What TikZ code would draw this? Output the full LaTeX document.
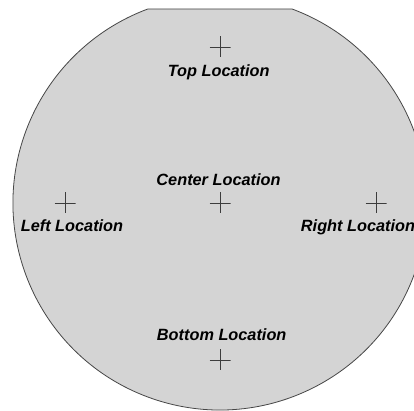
\documentclass[tikz,border=0pt]{standalone}
\usepackage{fontspec}
\setmainfont{Liberation Sans}
\usepackage{tikz}
\usetikzlibrary{positioning}
\definecolor{wafergray}{RGB}{212, 212, 212}
\definecolor{edgegray}{RGB}{70, 70, 70}
\definecolor{crossgray}{RGB}{60, 60, 60}

\begin{document}
\begin{tikzpicture}[
  x=1pt, y=1pt,
  crosshair/.style={rectangle, minimum size=21pt, inner sep=0pt,
              path picture={
                \draw[crossgray, line width=0.9pt]
                  (path picture bounding box.west) -- (path picture bounding box.east)
                  (path picture bounding box.north) -- (path picture bounding box.south);
              }},
  loclabel/.style={font=\fontsize{16.3}{18}\selectfont\bfseries\itshape, inner sep=0pt},
]
  \useasboundingbox (0,0) rectangle (414,411);
  \clip (0,0) rectangle (414,411);

  % --- wafer with flat ---
  \filldraw[fill=wafergray, draw=edgegray, line width=0.8pt]
    (292.1,402) arc[start angle=69.6, end angle=-249.6, radius=207] -- cycle;

  % measurement sites
  \node[crosshair] (top)    at (220,364) {};
  \node[crosshair] (center) at (220,208) {};
  \node[crosshair] (left)   at (65,208)  {};
  \node[crosshair] (right)  at (376,208) {};
  \node[crosshair] (bottom) at (220,51)  {};

  % site labels
  \node[loclabel, below=6.5pt of top, xshift=-1.3pt]   (toplbl)    {Top Location};
  \node[loclabel, above=6.5pt of center, xshift=-1.5pt] (centerlbl) {Center Location};
  \node[loclabel, below=5.5pt of left, xshift=7pt]      (leftlbl)   {Left Location};
  \node[loclabel, below=5.5pt of right, xshift=-18pt]   (rightlbl)  {Right Location};
  \node[loclabel, above=8.5pt of bottom, xshift=1.7pt]  (bottomlbl) {Bottom Location};

\end{tikzpicture}
\end{document}
